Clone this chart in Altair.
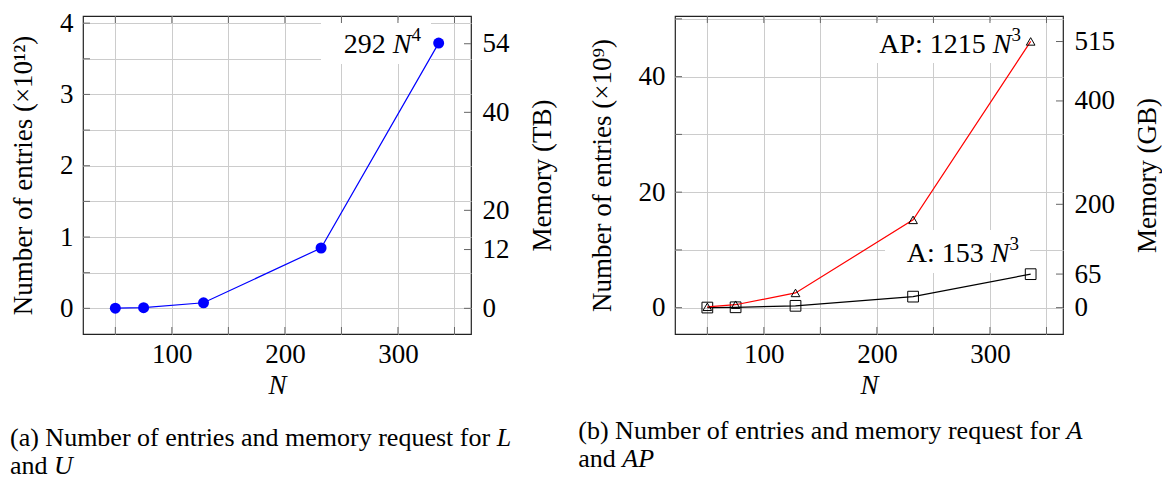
import altair as alt
import pandas as pd

# ---------------- data ----------------
N = [50, 75, 128, 232, 336]
LU = [0.0018, 0.0092, 0.078, 0.846, 3.72]      # x10^12 entries
A = [0.019, 0.065, 0.32, 1.91, 5.80]           # x10^9 entries
AP = [0.15, 0.51, 2.55, 15.2, 46.1]            # x10^9 entries

x_grid = [50, 100, 150, 200, 250, 300, 350]
y_grid_left = [0, 0.5, 1, 1.5, 2, 2.5, 3, 3.5, 4]
y_grid_right = [0, 10, 20, 30, 40, 50]
mem_ticks_left = [0, 12, 20, 40, 54]
mem_ticks_right = [0, 65, 200, 400, 515]

TB_PER_E12 = 16e12 / 1024 ** 4   # TB per 10^12 entries (16 bytes/entry)
GB_PER_E9 = 12e9 / 1024 ** 3     # GB per 10^9 entries (12 bytes/entry)

X_DOMAIN = [21.4, 364.6]
YL_DOMAIN = [-0.36, 4.10]
YR_DOMAIN = [-4.56, 50.5]

W, H = 388, 318
FONT = "Liberation Serif"
FS = 27
AN_FS = 28
SUP_FS = 19
CAP_FS = 26
TICK = "#666666"
TL = 7

one = pd.DataFrame({"a": [0]})
xs = alt.Scale(domain=X_DOMAIN, nice=False, zero=False)

AXIS_STYLE = dict(labelFont=FONT, labelFontSize=FS, labelColor="black",
                  titleFont=FONT, titleFontSize=FS, titleFontWeight="normal",
                  titleColor="black", gridColor="#cccccc", gridWidth=1,
                  domain=False, ticks=False, tickSize=0, labelFlush=False)


def yscale(dom):
    return alt.Scale(domain=dom, nice=False, zero=False)


def x_axis():
    return alt.Axis(values=x_grid, format=".0f",
                    labelExpr="datum.value % 100 == 0 ? datum.label : ''",
                    grid=True, labelPadding=7, title="N",
                    titleFontStyle="italic", titlePadding=5, **AXIS_STYLE)


def tick_layers(y_vals, dom):
    xdf = pd.DataFrame({"t": x_grid})
    ydf = pd.DataFrame({"t": y_vals})
    top = alt.Chart(xdf).mark_rule(color=TICK, strokeWidth=1).encode(
        x=alt.X("t:Q", scale=xs, axis=None), y=alt.value(0), y2=alt.value(TL))
    bot = alt.Chart(xdf).mark_rule(color=TICK, strokeWidth=1).encode(
        x=alt.X("t:Q", scale=xs, axis=None), y=alt.value(H - TL), y2=alt.value(H))
    lft = alt.Chart(ydf).mark_rule(color=TICK, strokeWidth=1).encode(
        y=alt.Y("t:Q", scale=yscale(dom), axis=None), x=alt.value(0), x2=alt.value(TL))
    return [top, bot, lft]


def mem_layer(vals, dom, title):
    df = pd.DataFrame({"m": vals})
    return alt.Chart(df).mark_rule(color=TICK, strokeWidth=1).encode(
        y=alt.Y("m:Q", scale=yscale(dom),
                axis=alt.Axis(orient="right", values=vals, grid=False, format="d",
                              labelPadding=11, title=title, titleAngle=-90,
                              titleBaseline="top", titlePadding=20, **AXIS_STYLE)),
        x=alt.value(W - TL), x2=alt.value(W))


def box(x1, x2, y1, y2):
    return alt.Chart(one).mark_rect(color="white").encode(
        x=alt.value(x1), x2=alt.value(x2), y=alt.value(y1), y2=alt.value(y2))


def txt(s, x, y, align="left", italic=False, size=FS):
    return alt.Chart(one).mark_text(
        text=s, align=align, baseline="middle", font=FONT, fontSize=size,
        fontStyle="italic" if italic else "normal", color="black").encode(
        x=alt.value(x), y=alt.value(y))


def power_label(prefix, power, x_right, y):
    """'prefix N^power' right-aligned at x_right, centred on y."""
    n_right = x_right - 0.5 * SUP_FS
    p_right = n_right - 0.667 * AN_FS - 0.25 * AN_FS
    return [txt(prefix, p_right, y, "right", size=AN_FS),
            txt("N", n_right, y, "right", italic=True, size=AN_FS),
            txt(power, x_right, y - 10, "right", size=SUP_FS)]


LINE_GAP = 28

# ---------------- left panel ----------------
df_l = pd.DataFrame({"N": N, "v": LU})
line_l = alt.Chart(df_l).mark_line(color="blue", strokeWidth=1.2).encode(
    x=alt.X("N:Q", scale=xs, axis=x_axis()),
    y=alt.Y("v:Q", scale=yscale(YL_DOMAIN),
            axis=alt.Axis(values=y_grid_left, format=".0f",
                          labelExpr="datum.value % 1 == 0 ? datum.label : ''",
                          grid=True, labelPadding=10,
                          title="Number of entries (×10¹²)", titlePadding=22,
                          **AXIS_STYLE)))
pts_l = alt.Chart(df_l).mark_point(shape="circle", filled=True, size=121,
                                   color="blue", opacity=1).encode(
    x=alt.X("N:Q", scale=xs, axis=None),
    y=alt.Y("v:Q", scale=yscale(YL_DOMAIN), axis=None))

cap_l_y = 422
left = alt.layer(
    box(238, 348, 4, 48),
    line_l, pts_l,
    *tick_layers(y_grid_left, YL_DOMAIN),
    mem_layer(mem_ticks_left, [d * TB_PER_E12 for d in YL_DOMAIN], "Memory (TB)"),
    *power_label("292", "4", 338, 29),
    txt("(a) Number of entries and memory request for", -73, cap_l_y, size=CAP_FS),
    txt("L", -73 + 18.717 * CAP_FS, cap_l_y, italic=True, size=CAP_FS),
    txt("and", -73, cap_l_y + LINE_GAP, size=CAP_FS),
    txt("U", -73 + 1.694 * CAP_FS, cap_l_y + LINE_GAP, italic=True, size=CAP_FS),
).resolve_scale(y="independent").resolve_axis(x="independent", y="independent").properties(width=W, height=H)

# ---------------- right panel ----------------
df_a = pd.DataFrame({"N": N, "v": A})
df_ap = pd.DataFrame({"N": N, "v": AP})
line_a = alt.Chart(df_a).mark_line(color="black", strokeWidth=1.2).encode(
    x=alt.X("N:Q", scale=xs, axis=x_axis()),
    y=alt.Y("v:Q", scale=yscale(YR_DOMAIN),
            axis=alt.Axis(values=y_grid_right, format=".0f",
                          labelExpr="datum.value % 20 == 0 ? datum.label : ''",
                          grid=True, labelPadding=10,
                          title="Number of entries (×10⁹)", titlePadding=22,
                          **AXIS_STYLE)))
pts_a = alt.Chart(df_a).mark_point(shape="square", filled=False, size=115,
                                   color="black", strokeWidth=1, opacity=1).encode(
    x=alt.X("N:Q", scale=xs, axis=None),
    y=alt.Y("v:Q", scale=yscale(YR_DOMAIN), axis=None))
line_ap = alt.Chart(df_ap).mark_line(color="red", strokeWidth=1.2).encode(
    x=alt.X("N:Q", scale=xs, axis=None),
    y=alt.Y("v:Q", scale=yscale(YR_DOMAIN), axis=None))
pts_ap = alt.Chart(df_ap).mark_point(shape="triangle-up", filled=False, size=75,
                                     color="black", strokeWidth=1, opacity=1).encode(
    x=alt.X("N:Q", scale=xs, axis=None),
    y=alt.Y("v:Q", scale=yscale(YR_DOMAIN), axis=None))

cap_r_y = 415
right = alt.layer(
    box(178, 353, 5, 47),
    box(210, 355, 214, 257),
    line_a, pts_a, line_ap, pts_ap,
    *tick_layers(y_grid_right, YR_DOMAIN),
    mem_layer(mem_ticks_right, [d * GB_PER_E9 for d in YR_DOMAIN], "Memory (GB)"),
    *power_label("AP: 1215", "3", 346, 29),
    *power_label("A: 153", "3", 344, 238),
    txt("(b) Number of entries and memory request for", -96.7, cap_r_y, size=CAP_FS),
    txt("A", -96.7 + 18.773 * CAP_FS, cap_r_y, italic=True, size=CAP_FS),
    txt("and", -96.7, cap_r_y + LINE_GAP, size=CAP_FS),
    txt("AP", -96.7 + 1.694 * CAP_FS, cap_r_y + LINE_GAP, italic=True, size=CAP_FS),
).resolve_scale(y="independent").resolve_axis(x="independent", y="independent").properties(width=W, height=H)

chart = alt.hconcat(left, right, spacing=21).properties(
    padding={"left": 0, "top": 0, "right": 0, "bottom": 0},
    background="white",
).configure_view(stroke="#222222", strokeWidth=1.2)

chart.save("out.html", embed_options={"renderer": "svg", "actions": False})
